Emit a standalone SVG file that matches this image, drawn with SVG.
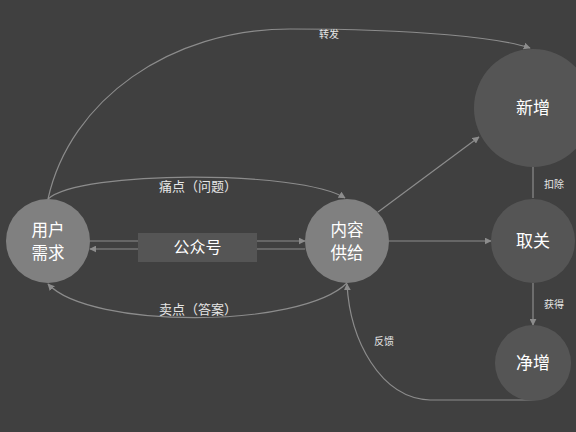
<svg xmlns="http://www.w3.org/2000/svg" width="576" height="432" viewBox="0 0 576 432">
<defs>
<marker id="arr" viewBox="0 0 10 10" refX="9" refY="5" markerWidth="7" markerHeight="7" orient="auto" markerUnits="userSpaceOnUse">
<path d="M0,0 L10,5 L0,10 z" fill="#8c8c8c"/>
</marker>
<style>
.edge{fill:none;stroke:#8c8c8c;stroke-width:1.2}
.big{fill:#ffffff;font-family:"Noto Sans CJK SC","Noto Sans",sans-serif;font-size:17px;text-anchor:middle}
.lbl{fill:#e6e6e6;font-family:"Noto Sans CJK SC","Noto Sans",sans-serif;font-size:13px;text-anchor:middle}
.sm{fill:#e6e6e6;font-family:"Noto Sans CJK SC","Noto Sans",sans-serif;font-size:10px;text-anchor:middle}
.light{fill:#808080}
.dark{fill:#555555}
</style>
</defs>
<rect width="576" height="432" fill="#404040"/>
<g id="connectors">
<path class="edge" d="M48,199 C70,100 170,29 290,29 C420,29 500,38 530,48" marker-end="url(#arr)"/>
<path class="edge" d="M48,199 C80,170 300,170 345,198" marker-end="url(#arr)"/>
<path class="edge" d="M347,283 C300,329 90,329 48,284" marker-end="url(#arr)"/>
<line class="edge" x1="90" y1="241" x2="305" y2="241" marker-end="url(#arr)"/>
<line class="edge" x1="305" y1="249" x2="90" y2="249" marker-end="url(#arr)"/>
<line class="edge" x1="378" y1="212" x2="479" y2="137" marker-end="url(#arr)"/>
<line class="edge" x1="389" y1="241" x2="491" y2="241" marker-end="url(#arr)"/>
<line class="edge" x1="533" y1="167" x2="533" y2="198"/>
<line class="edge" x1="533" y1="283" x2="533" y2="325" marker-end="url(#arr)"/>
<path class="edge" d="M533,400 L430,400 C380,398 350,340 347,284" marker-end="url(#arr)"/>
<text class="sm" x="329" y="38">转发</text>
<text class="lbl" x="198" y="191">痛点（问题）</text>
<text class="lbl" x="198" y="314">卖点（答案）</text>
<text class="sm" x="554" y="188">扣除</text>
<text class="sm" x="554" y="308">获得</text>
<text class="sm" x="384" y="345">反馈</text>
</g>
<g id="gzh">
<rect x="138" y="233" width="119" height="29" class="dark"/>
<text class="big" x="197.5" y="253" style="font-size:16px">公众号</text>
</g>
<g id="yonghu">
<circle cx="48" cy="241" r="42" class="light"/>
<text class="big" x="48" y="236" style="font-size:16.5px">用户</text>
<text class="big" x="48" y="259" style="font-size:16.5px">需求</text>
</g>
<g id="neirong">
<circle cx="347" cy="241" r="42" class="light"/>
<text class="big" x="347" y="236" style="font-size:16.5px">内容</text>
<text class="big" x="347" y="259" style="font-size:16.5px">供给</text>
</g>
<g id="xinzeng">
<circle cx="533" cy="108" r="59" class="dark"/>
<text class="big" x="533" y="114">新增</text>
</g>
<g id="quguan">
<circle cx="533" cy="241" r="42" class="dark"/>
<text class="big" x="533" y="247">取关</text>
</g>
<g id="jingzeng">
<circle cx="533" cy="363" r="38" class="dark"/>
<text class="big" x="533" y="369">净增</text>
</g>
</svg>
